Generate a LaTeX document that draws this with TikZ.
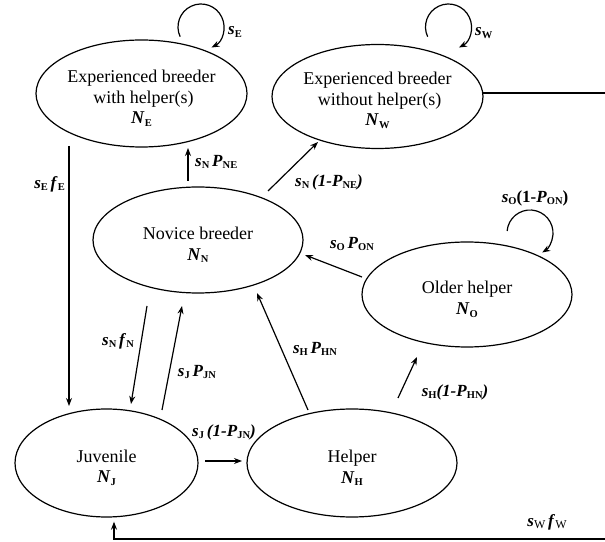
\documentclass[tikz,border=0pt]{standalone}
\usepackage{fontspec}
\setmainfont{Liberation Serif}
\usetikzlibrary{shapes.geometric,arrows.meta,calc}
\newcommand\sbx[1]{\raisebox{-0.35ex}{\fontsize{10.5}{10.5}\selectfont\textbf{#1}}}
\newcommand\sbr[1]{\raisebox{-0.35ex}{\fontsize{12}{12}\selectfont #1}}
\newcommand\bi[1]{\textbf{\textit{#1}}}
\begin{document}
\begin{tikzpicture}[x=1pt,y=1pt,
  st/.style={ellipse,draw,line width=1.2pt,inner sep=0pt},
  txt/.style={align=center,font=\fontsize{18}{20.5}\selectfont,inner sep=0pt},
  lab/.style={font=\fontsize{17}{17}\selectfont,inner sep=0pt},
  arr/.style={line width=1.2pt,-{Stealth[length=8pt,width=6pt]}},
  ln/.style={line width=1.2pt}]
\useasboundingbox (0,0) rectangle (605,541);
% states
\node[st,minimum width=211pt,minimum height=107pt] (NE) at (141.5,447.5) {};
\node[st,minimum width=211pt,minimum height=104pt] (NW) at (377.5,444.5) {};
\node[st,minimum width=210pt,minimum height=106pt] (NN) at (198,301) {};
\node[st,minimum width=210pt,minimum height=105pt] (NO) at (467,246.5) {};
\node[st,minimum width=183pt,minimum height=108pt] (NJ) at (106.5,78) {};
\node[st,minimum width=210pt,minimum height=108pt] (NH) at (352,78) {};
% state texts
\node[txt] (tNE) at ($(NE.center)+(0,-5)$) {Experienced breeder\\ \hspace*{4pt}with helper(s)\\ \bi{N}\sbx{E}};
\node[txt] (tNW) at ($(NW.center)+(0,-4)$) {Experienced breeder\\ \hspace*{4pt}without helper(s)\\ \bi{N}\sbx{W}};
\node[txt] (tNN) at ($(NN.center)+(0,-5)$) {Novice breeder\\ \bi{N}\sbx{N}};
\node[txt] (tNO) at ($(NO.center)+(0,-5)$) {Older helper\\ \bi{N}\sbx{O}};
\node[txt] (tNJ) at ($(NJ.center)+(0,-5)$) {Juvenile\\ \bi{N}\sbx{J}};
\node[txt] (tNH) at ($(NH.center)+(0,-5)$) {Helper\\ \bi{N}\sbx{H}};
% self loops
\draw[arr] ($(NE.center)+(38.65,56.78)$) arc[start angle=205,end angle=-63,radius=23];
\draw[arr] ($(NW.center)+(50.15,59.78)$) arc[start angle=205,end angle=-63,radius=23];
\draw[arr] ($(NO.center)+(40.1,63.5)$) arc[start angle=175,end angle=-58,radius=23];
% transitions
\draw[arr] ($(NN.center)+(-10,59)$) -- ($(NE.center)+(46.5,-54.5)$);
\draw[arr] ($(NN.center)+(70,49)$) -- ($(NW.center)+(-59.5,-45.5)$);
\draw[arr] ($(NO.center)+(-105,17.5)$) -- ($(NN.center)+(107,-15)$);
\draw[arr] ($(NH.center)+(-44,53)$) -- ($(NN.center)+(59,-53)$);
\draw[arr] ($(NH.center)+(46,65)$) -- ($(NO.center)+(-50,-62.5)$);
\draw[arr] ($(NN.center)+(-51,-66)$) -- ($(NJ.center)+(24.5,59)$);
\draw[arr] ($(NJ.center)+(55.5,53)$) -- ($(NN.center)+(-16,-66)$);
\draw[arr] ($(NJ.center)+(98.5,2)$) -- ($(NH.center)+(-110,2)$);
\draw[arr] ($(NE.center)+(-72.5,-52.5)$) -- ($(NJ.center)+(-37.5,57)$);
\coordinate (wstart) at (605,2);
\draw[arr] (wstart) -| ($(NJ.center)+(7.5,-58.7)$);
\coordinate (wend) at (605,448);
\draw[ln] ($(NW.center)+(105.5,3.5)$) -- (wend);
% labels
\node[lab,anchor=west] (lE) at (228,509) {\bi{s}\sbx{E}};
\node[lab,anchor=west] (lW) at (475,508) {\bi{s}\sbx{W}};
\node[lab] (lO) at (535,343) {\bi{s}\sbx{O}\textbf{(1-}\bi{P}\sbx{ON}\textbf{)}};
\node[lab,anchor=east] (lEf) at (65,357) {\bi{s}\sbx{E}\,\bi{f}\sbx{E}};
\node[lab,anchor=west] (lNE) at (195,379) {\bi{s}\sbx{N}\,\bi{P}\sbx{NE}};
\node[lab,anchor=west] (lNW) at (295,359) {\bi{s}\sbx{N}\,\bi{(1-P}\sbx{NE}\bi{)}};
\node[lab] (lON) at (352,297) {\bi{s}\sbx{O}\,\bi{P}\sbx{ON}};
\node[lab] (lHN) at (315,192) {\bi{s}\sbx{H}\,\bi{P}\sbx{HN}};
\node[lab] (lHO) at (455,149) {\bi{s}\sbx{H}\bi{(1-P}\sbx{HN}\bi{)}};
\node[lab] (lNf) at (118,200) {\bi{s}\sbx{N}\,\bi{f}\sbx{N}};
\node[lab] (lJN) at (197,169) {\bi{s}\sbx{J}\,\bi{P}\sbx{JN}};
\node[lab] (lJH) at (224,109) {\bi{s}\sbx{J}\,\bi{(1-P}\sbx{JN}\bi{)}};
\node[lab] (lWf) at (547,19) {\bi{s}\sbr{W}\,\bi{f}\sbr{W}};
\end{tikzpicture}
\end{document}
